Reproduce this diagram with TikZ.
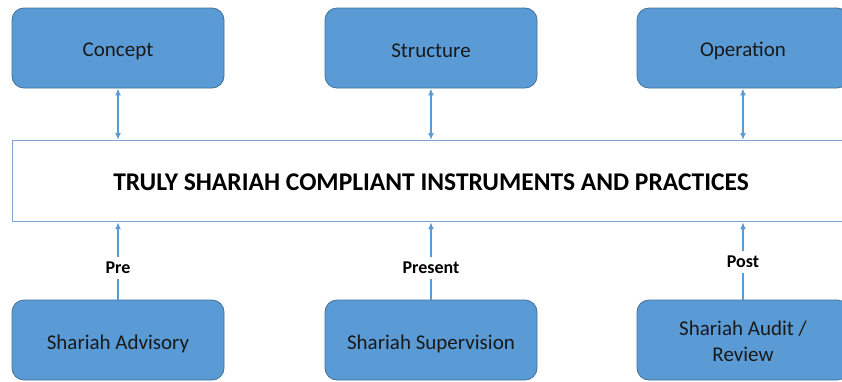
\documentclass[tikz,border=0pt]{standalone}
\usepackage{fontspec}
\setmainfont{Carlito}
\usetikzlibrary{arrows.meta}
\definecolor{boxfill}{HTML}{5B9BD5}
\definecolor{boxline}{HTML}{41719C}
\definecolor{linkblue}{HTML}{5B9BD5}
\definecolor{bandline}{HTML}{7FA6D3}
\tikzset{
  pillar/.style={draw=boxline, line width=0.8pt, fill=boxfill, rounded corners=12pt,
    minimum width=212pt, minimum height=80pt, inner sep=0pt},
  caption/.style={align=center, font=\fontsize{21}{26}\selectfont, text=black!90, inner sep=0pt},
  band/.style={draw=bandline, line width=1.2pt, fill=white, inner sep=0pt},
  link/.style={draw=linkblue, line width=2pt},
  both/.style={link, {Latex[length=7pt,width=6pt]}-{Latex[length=7pt,width=6pt]}},
  up/.style={link, -{Latex[length=7pt,width=6pt]}},
  phase/.style={fill=white, font=\bfseries\fontsize{18}{20}\selectfont, inner sep=5pt}
}
\begin{document}
\begin{tikzpicture}[x=1pt,y=-1pt]
\useasboundingbox (0,0) rectangle (842,381);
\clip (0,0) rectangle (842,381);
% central band
\node[band, minimum width=840pt, minimum height=81pt, anchor=north west] (core) at (12,140) {};
\node[font=\bfseries\fontsize{25.5}{28}\selectfont] (title) at (431,182)
  {TRULY SHARIAH COMPLIANT INSTRUMENTS AND PRACTICES};
% upper boxes
\node[pillar] (concept) at (118,48) {};
\node[pillar] (structure) at (431,48) {};
\node[pillar] (operation) at (743,48) {};
% lower boxes
\node[pillar] (advisory) at (118,340) {};
\node[pillar] (supervision) at (431,340) {};
\node[pillar] (audit) at (743,340) {};
% box captions, set a little below the geometric centre
\node[caption] (conceptTxt) at ([yshift=-3pt]concept.center) {Concept};
\node[caption] (structureTxt) at ([yshift=-3pt]structure.center) {Structure};
\node[caption] (operationTxt) at ([yshift=-3pt]operation.center) {Operation};
\node[caption] (advisoryTxt) at ([yshift=-4pt]advisory.center) {Shariah Advisory};
\node[caption] (supervisionTxt) at ([yshift=-4pt]supervision.center) {Shariah Supervision};
\node[caption] (auditTxt) at ([yshift=-1.5pt]audit.center) {Shariah Audit /\\Review};
% upper links
\draw[both] (concept.south) -- (concept.south |- core.north);
\draw[both] (structure.south) -- (structure.south |- core.north);
\draw[both] (operation.south) -- (operation.south |- core.north);
% lower links
\draw[up] (advisory.north) -- (advisory.north |- core.south);
\draw[up] (supervision.north) -- (supervision.north |- core.south);
\draw[up] (audit.north) -- (audit.north |- core.south);
% phase labels
\node[phase] (pre) at (118,268) {Pre};
\node[phase] (present) at (431,268) {Present};
\node[phase] (post) at (743,262) {Post};
\end{tikzpicture}
\end{document}
